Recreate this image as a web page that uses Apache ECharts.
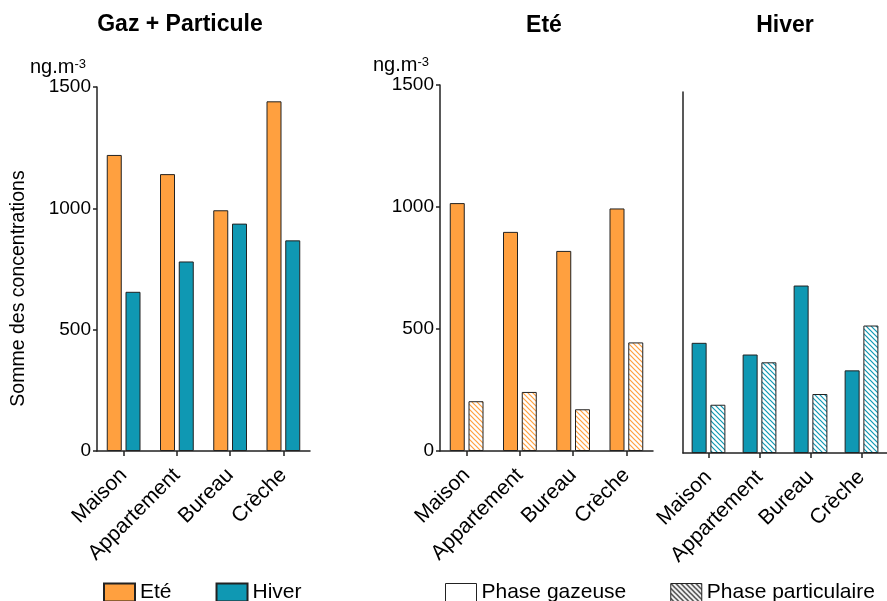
<!DOCTYPE html>
<html>
<head>
<meta charset="utf-8">
<script src="https://cdn.jsdelivr.net/npm/echarts@6/dist/echarts.min.js"></script>
<style>html,body{margin:0;padding:0;background:#fff}#c{width:887px;height:601px}</style>
</head>
<body>
<div id="c"></div>
<script>
const categories = ['Maison', 'Appartement', 'Bureau', 'Crèche'];
const totalEte = [1220, 1141, 992, 1441];
const totalHiver = [656, 781, 937, 868];
const eteGaz = [1016, 898, 820, 994];
const etePart = [204, 242, 171, 445];
const hiverGaz = [452, 404, 687, 339];
const hiverPart = [198, 372, 242, 523];
const yMin = 0, yMax = 1500, yStep = 500;

const ORANGE = '#FFA03F';
const TEAL = '#0F98B3';
const FONT = '"Liberation Sans", Arial, sans-serif';

function hatch(color) {
  const c = document.createElement('canvas');
  c.width = 5; c.height = 5;
  const ctx = c.getContext('2d');
  ctx.fillStyle = '#fff'; ctx.fillRect(0, 0, 5, 5);
  ctx.strokeStyle = color; ctx.lineWidth = 1.2;
  ctx.beginPath();
  ctx.moveTo(-1, -1); ctx.lineTo(6, 6);
  ctx.moveTo(-1, 4); ctx.lineTo(1, 6);
  ctx.moveTo(4, -1); ctx.lineTo(6, 1);
  ctx.stroke();
  return { image: c, repeat: 'repeat' };
}

const chart = echarts.init(document.getElementById('c'), null, { renderer: 'canvas' });
const axisLineStyle = { color: '#222', width: 1.5 };

function xAxis(i) {
  return {
    type: 'category', gridIndex: i, data: categories,
    axisLine: { show: true, lineStyle: axisLineStyle },
    axisTick: { show: true, alignWithLabel: true, length: 5, lineStyle: axisLineStyle },
    axisLabel: { rotate: 45, interval: 0, fontSize: 21, color: '#000', fontFamily: FONT, margin: 21 },
    splitLine: { show: false }
  };
}
const unitName = '{a|ng.m}{b|-3}';
const unitStyle = {
  align: 'right', padding: [0, 11, 0, 0],
  rich: {
    a: { fontSize: 20, fontFamily: FONT, color: '#000', lineHeight: 20 },
    b: { fontSize: 13, fontFamily: FONT, color: '#000', verticalAlign: 'top', lineHeight: 13 }
  }
};
function yAxis(i, withLabels, max) {
  return {
    type: 'value', gridIndex: i, min: yMin, max: max, interval: yStep,
    name: withLabels ? unitName : '', nameLocation: 'end', nameGap: 6,
    nameTextStyle: unitStyle,
    axisLine: { show: true, lineStyle: axisLineStyle },
    axisTick: { show: withLabels, length: 4, lineStyle: axisLineStyle },
    axisLabel: { show: withLabels, fontSize: 19, color: '#000', fontFamily: FONT, margin: 6,
      formatter: function (v) { return String(v); } },
    splitLine: { show: false }
  };
}
const border = { borderColor: '#222', borderWidth: 1 };
function bar(name, data, i, color) {
  return {
    type: 'bar', name: name, data: data, xAxisIndex: i, yAxisIndex: i,
    barWidth: 15, barGap: '25%',
    itemStyle: Object.assign({ color: color }, border),
    emphasis: { disabled: true }
  };
}

const option = {
  animation: false,
  backgroundColor: '#fff',
  textStyle: { fontFamily: FONT },
  title: [
    { text: 'Gaz + Particule', left: 180, top: 13, textAlign: 'center', padding: 0,
      textStyle: { fontSize: 23, fontWeight: 'bold', color: '#000', fontFamily: FONT } },
    { text: 'Eté', left: 544, top: 14, textAlign: 'center', padding: 0,
      textStyle: { fontSize: 23, fontWeight: 'bold', color: '#000', fontFamily: FONT } },
    { text: 'Hiver', left: 785, top: 14, textAlign: 'center', padding: 0,
      textStyle: { fontSize: 23, fontWeight: 'bold', color: '#000', fontFamily: FONT } }
  ],
  grid: [
    { left: 97, top: 87, width: 213, height: 364 },
    { left: 440, top: 85, width: 213, height: 366 },
    { left: 683, top: 92, width: 211, height: 361 }
  ],
  xAxis: [xAxis(0), xAxis(1), xAxis(2)],
  yAxis: [yAxis(0, true, yMax), yAxis(1, true, yMax), yAxis(2, false, 1481)],
  legend: [
    { data: ['Eté', 'Hiver'], left: 103, top: 582, itemWidth: 31, itemHeight: 18, itemGap: 44,
      icon: 'rect', selectedMode: false, padding: 0,
      textStyle: { fontSize: 21, color: '#000', fontFamily: FONT } },
    { data: [
        { name: 'Phase gazeuse', itemStyle: { color: '#fff', borderColor: '#222', borderWidth: 1 } },
        { name: 'Phase particulaire', itemStyle: { color: hatch('#000'), borderColor: '#222', borderWidth: 1 } }
      ],
      left: 445, top: 582, itemWidth: 31, itemHeight: 18, itemGap: 44,
      icon: 'rect', selectedMode: false, padding: 0,
      textStyle: { fontSize: 21, color: '#000', fontFamily: FONT } }
  ],
  graphic: [
    { type: 'text', x: 18.5, y: 288.5, rotation: Math.PI / 2,
      style: { text: 'Somme des concentrations', font: '19.5px ' + FONT, fill: '#000',
        textAlign: 'center', textVerticalAlign: 'middle' } }
  ],
  series: [
    bar('Eté', totalEte, 0, ORANGE),
    bar('Hiver', totalHiver, 0, TEAL),
    bar('Phase gazeuse', eteGaz, 1, ORANGE),
    bar('Phase particulaire', etePart, 1, hatch(ORANGE)),
    bar('Phase gazeuse', hiverGaz, 2, TEAL),
    bar('Phase particulaire', hiverPart, 2, hatch(TEAL))
  ]
};
chart.setOption(option);
</script>
</body>
</html>
